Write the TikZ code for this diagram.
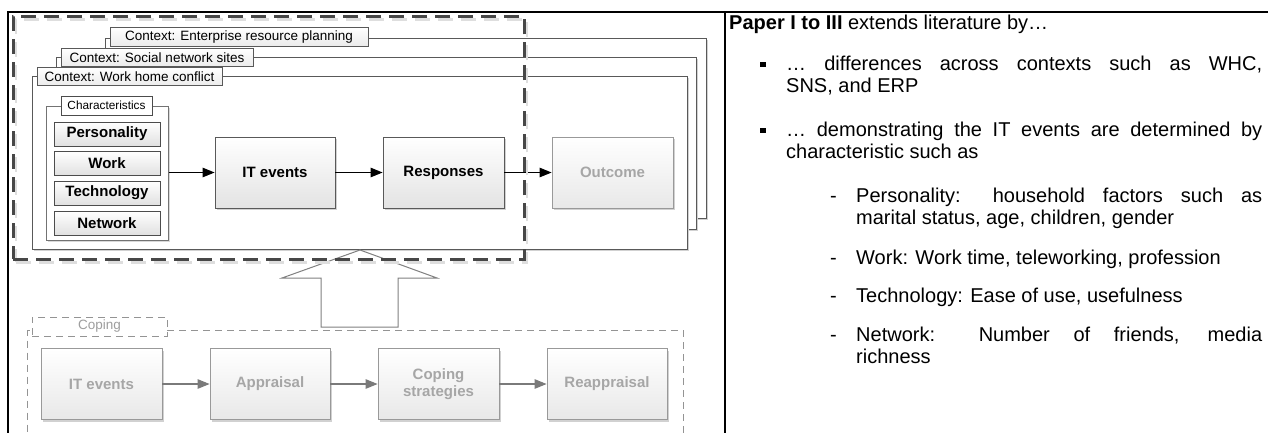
\documentclass[tikz,border=0pt]{standalone}
\usepackage{fontspec}
\setmainfont{Liberation Sans}
\usetikzlibrary{arrows.meta,shadows}

\tikzset{
  outerline/.style={line width=2pt, draw=black},
  ctxframe/.style={draw=black!65, line width=0.8pt, fill=white, inner sep=0, anchor=north west,
    drop shadow={shadow xshift=2pt, shadow yshift=-2pt, fill=black!18, opacity=1}},
  ctxtab/.style={draw=black!65, line width=0.8pt, top color=white, bottom color=black!8,
    inner sep=0, minimum height=18.5, font=\fontsize{13.5}{16}\selectfont},
  grpframe/.style={draw=black!55, line width=0.8pt, fill=white, inner sep=0, anchor=north west,
    drop shadow={shadow xshift=1.5pt, shadow yshift=-1.5pt, fill=black!15, opacity=1}},
  grptab/.style={draw=black!70, line width=0.8pt, fill=white, inner sep=0,
    minimum width=91, minimum height=19, font=\fontsize{11.8}{14}\selectfont},
  charbox/.style={draw=black!70, line width=0.8pt, top color=white, bottom color=black!12,
    inner sep=0, minimum width=106, minimum height=24, font=\bfseries\fontsize{15}{18}\selectfont},
  stepbox/.style={draw=black!65, line width=0.8pt, top color=white, bottom color=black!11,
    inner sep=0, minimum width=121, minimum height=71, align=center,
    font=\bfseries\fontsize{15}{18}\selectfont,
    drop shadow={shadow xshift=2pt, shadow yshift=-2pt, fill=black!18, opacity=1}},
  fadedbox/.style={stepbox, draw=black!40, text=black!35, bottom color=black!9},
  focusline/.style={draw=black!72, line width=2.6pt, dash pattern=on 15pt off 8pt,
    inner sep=0, anchor=north west, minimum width=511, minimum height=243},
  focusshade/.style={focusline, draw=black!13},
  copeframe/.style={draw=black!42, line width=1pt, dash pattern=on 7pt off 5pt,
    inner sep=0, anchor=north west},
  copetab/.style={draw=black!42, line width=1pt, dash pattern=on 7pt off 5pt, fill=white,
    inner sep=0, minimum width=135, minimum height=19, text=black!38,
    font=\fontsize{13.5}{16}\selectfont},
  arr/.style={-{Triangle[length=12pt,width=9.5pt]}, line width=1.1pt, draw=black},
  garr/.style={-{Triangle[length=12pt,width=9.5pt]}, line width=1.1pt, draw=black!52, fill=black!52},
  bigarrow/.style={draw=black!50, line width=1pt, fill=white, line join=miter},
  txt/.style={anchor=base west, inner sep=0, font=\fontsize{20}{22}\selectfont},
}

\begin{document}
\begin{tikzpicture}[x=1pt, y=-1pt]
\useasboundingbox (0,0) rectangle (1268,432);

% outer frame of the two panels
\draw[outerline] (8,445) -- (8,12) -- (1275,12);
\draw[outerline] (725,12) -- (725,445);

% stacked context frames (back to front)
\node[ctxframe, minimum width=601, minimum height=180.5] (erp) at (105,37.5) {};
\node[ctxtab, minimum width=258] (erptab) at (239,37) {Context: Enterprise resource planning};
\node[ctxframe, minimum width=640, minimum height=172] (sns) at (56,57) {};
\node[ctxtab, minimum width=192] (snstab) at (157,57.5) {Context: Social network sites};
\node[ctxframe, minimum width=655, minimum height=173] (whc) at (32,76) {};
\node[ctxtab, minimum width=185] (whctab) at (129.5,76.5) {Context: Work home conflict};

% characteristics group
\node[grpframe, minimum width=122, minimum height=134] (chg) at (46,106) {};
\node[grptab] (chgtab) at (106.5,105.5) {Characteristics};
\node[charbox] (pers) at (107,134) {Personality};
\node[charbox] (work) at (107,163.5) {Work};
\node[charbox] (tech) at (107,193) {Technology};
\node[charbox] (netw) at (107,223) {Network};

% process boxes
\node[stepbox, minimum width=120] (itev) at (275,172.5) {IT events};
\node[stepbox] (resp) at (443.5,172.5) {Responses};
\node[fadedbox] (outc) at (612.5,172.5) {Outcome};

\draw[arr] (chg.east |- itev.west) -- (itev.west);
\draw[arr] (itev) -- (resp);
\draw[arr] (resp) -- (outc);

% hollow arrow from the coping model up to the focus area
\draw[bigarrow] (360,250) -- (437,278) -- (398,278) -- (398,327) -- (321,327)
  -- (321,278) -- (282,278) -- cycle;

% dashed focus area
\node[focusshade] (focussh) at (14.5,18) {};
\node[focusline] (focus) at (12,15) {};

% coping model
\node[copeframe, minimum width=656, minimum height=130] (cope) at (27,330) {};
\node[copetab] (copetab) at (99.5,326.5) {Coping};
\node[fadedbox] (cit) at (101.5,384) {IT events};
\node[fadedbox, minimum width=120] (capp) at (270,384) {Appraisal};
\node[fadedbox] (cstr) at (438.5,384) {Coping\\[-1pt]strategies};
\node[fadedbox, minimum width=120] (crea) at (607,384) {Reappraisal};
\draw[garr] (cit) -- (capp);
\draw[garr] (capp) -- (cstr);
\draw[garr] (cstr) -- (crea);

% text panel
\node[txt] (t0) at (729,29) {\textbf{Paper I to III} extends literature by…};

\fill (760,61.5) rectangle (765.5,67);
\node[txt] (t1a) at (786,70) {\makebox[476pt][s]{… differences across contexts such as WHC,}};
\node[txt] (t1b) at (786,92) {SNS, and ERP};

\fill (760,127.5) rectangle (765.5,133);
\node[txt] (t2a) at (786,136) {\makebox[476pt][s]{… demonstrating the IT events are determined by}};
\node[txt] (t2b) at (786,158) {characteristic such as};

\node[txt] (d1) at (830,202) {-};
\node[txt] (t3a) at (856,202) {\makebox[406pt][s]{Personality: household factors such as}};
\node[txt] (t3b) at (856,224) {marital status, age, children, gender};

\node[txt] (d2) at (830,264) {-};
\node[txt] (t4) at (856,264) {Work: Work time, teleworking, profession};

\node[txt] (d3) at (830,302) {-};
\node[txt] (t5) at (856,302) {Technology: Ease of use, usefulness};

\node[txt] (d4) at (830,341) {-};
\node[txt] (t6a) at (856,341) {\makebox[406pt][s]{Network: Number of friends, media}};
\node[txt] (t6b) at (856,363) {richness};
\end{tikzpicture}
\end{document}
